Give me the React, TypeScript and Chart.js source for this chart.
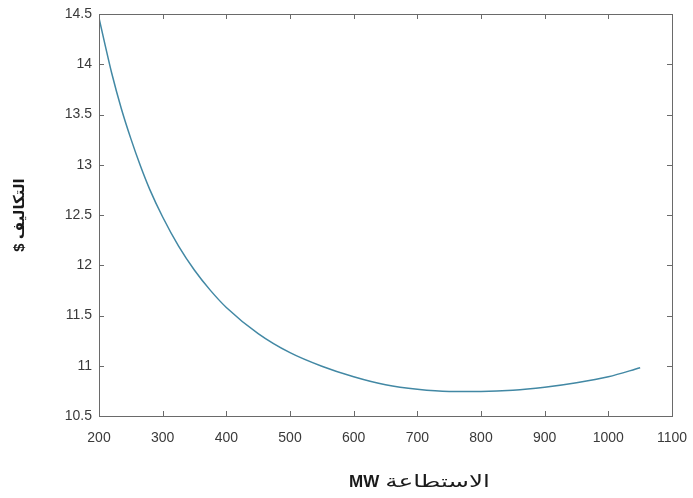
import { useEffect, useRef } from 'react';
import { Chart, registerables } from 'chart.js';

Chart.register(...registerables);

const capacityMW = [200, 210, 220, 235, 250, 265, 280, 300, 325, 350, 375, 400, 450, 500, 550, 600, 650, 700, 750, 800, 850, 900, 950, 1000, 1050];
const costUSD = [14.46, 14.18, 13.91, 13.56, 13.26, 12.99, 12.75, 12.48, 12.19, 11.95, 11.75, 11.58, 11.32, 11.13, 10.995, 10.89, 10.81, 10.765, 10.745, 10.745, 10.755, 10.785, 10.83, 10.89, 10.98];

const xTicks = [200, 300, 400, 500, 600, 700, 800, 900, 1000, 1100];
const yTicks = [10.5, 11, 11.5, 12, 12.5, 13, 13.5, 14, 14.5];

const xTitleUnit = 'MW';
const xTitleWord = 'الاستطاعة';
const yTitle = '$ التكاليف';

const boxPlugin = {
  id: 'matlabBox',
  afterDatasetsDraw(chart: any) {
    const { ctx, chartArea, scales } = chart;
    const { left, right, top, bottom } = chartArea;
    const x = scales.x;
    const y = scales.y;
    ctx.save();
    ctx.strokeStyle = '#6a6a6a';
    ctx.lineWidth = 1;
    ctx.strokeRect(Math.round(left) + 0.5, Math.round(top) + 0.5, Math.round(right - left), Math.round(bottom - top));
    ctx.beginPath();
    const tl = 5;
    for (const v of xTicks) {
      const px = Math.round(x.getPixelForValue(v)) + 0.5;
      ctx.moveTo(px, bottom);
      ctx.lineTo(px, bottom - tl);
      ctx.moveTo(px, top);
      ctx.lineTo(px, top + tl);
    }
    for (const v of yTicks) {
      const py = Math.round(y.getPixelForValue(v)) + 0.5;
      ctx.moveTo(left, py);
      ctx.lineTo(left + tl, py);
      ctx.moveTo(right, py);
      ctx.lineTo(right - tl, py);
    }
    ctx.stroke();

    // x-axis title (MATLAB-style label, slightly right of centre as in the source)
    const cx = (left + right) / 2 + 34;
    const baseY = chart.height - 11;
    const unitFont = 'bold 17px "Liberation Sans", Arial, sans-serif';
    const wordFont = '17px "DejaVu Sans", sans-serif';
    const stretch = 1.45;
    ctx.font = unitFont;
    const wUnit = ctx.measureText(xTitleUnit).width;
    ctx.font = wordFont;
    const wWord = ctx.measureText(xTitleWord).width * stretch;
    const gap = 6;
    const total = wUnit + gap + wWord;
    const x0 = cx - total / 2;
    ctx.fillStyle = '#1a1a1a';
    ctx.textBaseline = 'alphabetic';
    ctx.textAlign = 'left';
    ctx.font = unitFont;
    ctx.fillText(xTitleUnit, x0, baseY);
    ctx.font = wordFont;
    ctx.save();
    ctx.translate(x0 + wUnit + gap, baseY);
    ctx.scale(stretch, 1);
    ctx.fillText(xTitleWord, 0, 0);
    ctx.restore();
    ctx.restore();
  },
};

export default function App() {
  const ref = useRef<HTMLCanvasElement | null>(null);

  useEffect(() => {
    if (!ref.current) return;
    const chart = new Chart(ref.current, {
      type: 'line',
      data: {
        datasets: [
          {
            data: capacityMW.map((c, i) => ({ x: c, y: costUSD[i] })),
            borderColor: 'rgb(66,136,164)',
            borderWidth: 1.5,
            pointRadius: 0,
            fill: false,
            cubicInterpolationMode: 'monotone',
          },
        ],
      },
      options: {
        animation: false,
        responsive: false,
        devicePixelRatio: 1,
        layout: { padding: { top: 14, right: 21, left: 0, bottom: 0 } },
        plugins: { legend: { display: false }, tooltip: { enabled: false } },
        scales: {
          x: {
            type: 'linear',
            min: 200,
            max: 1100,
            grid: { display: false, drawTicks: false },
            border: { display: false },
            afterBuildTicks: (s: any) => {
              s.ticks = xTicks.map((v) => ({ value: v }));
            },
            afterFit: (s: any) => {
              s.height = 82;
              s.paddingLeft = 0;
              s.paddingRight = 0;
            },
            ticks: {
              padding: 14,
              maxRotation: 0,
              autoSkip: false,
              color: '#3a3a3a',
              font: { family: 'Liberation Sans, Arial, sans-serif', size: 14 },
              callback: (v: any) => String(v),
            },
            title: { display: false },
          },
          y: {
            type: 'linear',
            min: 10.5,
            max: 14.5,
            grid: { display: false, drawTicks: false },
            border: { display: false },
            afterBuildTicks: (s: any) => {
              s.ticks = yTicks.map((v) => ({ value: v }));
            },
            afterFit: (s: any) => {
              s.width = 99;
              s.paddingTop = 0;
              s.paddingBottom = 0;
            },
            ticks: {
              padding: 7,
              autoSkip: false,
              color: '#3a3a3a',
              font: { family: 'Liberation Sans, Arial, sans-serif', size: 14 },
              callback: (v: any) => String(v),
            },
            title: {
              display: true,
              text: yTitle,
              color: '#1a1a1a',
              font: { family: 'Liberation Sans, DejaVu Sans, sans-serif', size: 15, weight: 'bold' },
              padding: { top: 11, bottom: 0 },
            },
          },
        },
      },
      plugins: [boxPlugin],
    });
    return () => chart.destroy();
  }, []);

  return (
    <div style={{ position: 'absolute', left: 0, top: 0, width: 693, height: 498, background: '#fff' }}>
      <canvas ref={ref} width={693} height={498} />
    </div>
  );
}
